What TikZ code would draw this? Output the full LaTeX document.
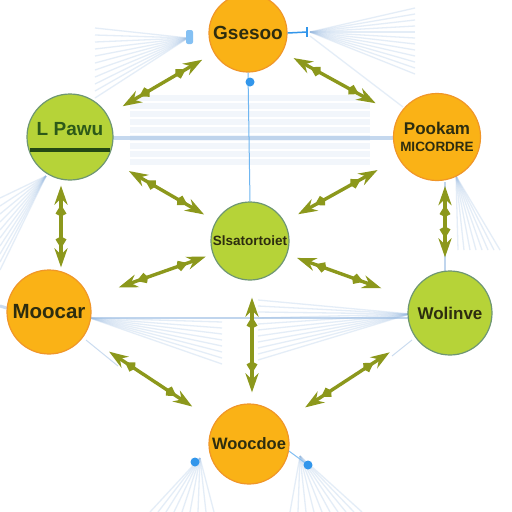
\documentclass[tikz,border=0pt]{standalone}
\usepackage{fontspec}
\setmainfont{Liberation Sans}
\usetikzlibrary{arrows.meta,calc,decorations.markings}
\definecolor{orfill}{RGB}{250,178,22}
\definecolor{ordraw}{RGB}{240,150,40}
\definecolor{grfill}{RGB}{182,211,56}
\definecolor{grdraw}{RGB}{110,150,115}
\definecolor{olivearr}{RGB}{140,152,28}
\definecolor{pale}{RGB}{150,185,225}
\definecolor{bluedot}{RGB}{50,150,235}
\definecolor{txtdark}{RGB}{45,45,15}
\definecolor{txtgreen}{RGB}{45,90,25}
\tikzset{
  onode/.style={circle, fill=orfill, draw=ordraw, line width=1.2pt, inner sep=0pt, text=txtdark, align=center},
  gnode/.style={circle, fill=grfill, draw=grdraw, line width=1.2pt, inner sep=0pt, text=txtdark, align=center},
  fs/.style={font=\bfseries\fontsize{#1}{#1}\selectfont},
  fan/.style={pale, opacity=0.25, line width=1.3pt},
  band/.style={pale, opacity=0.12, line width=6pt},
  arr/.style={olivearr, line width=3.4pt,
    {Stealth[length=19pt,width=13pt]}-{Stealth[length=19pt,width=13pt]},
    postaction={decorate},
    decoration={markings,
      mark=at position 19pt with {\arrowreversed{Kite[length=12pt,width=11pt]}},
      mark=at position -19pt with {\arrow{Kite[length=12pt,width=11pt]}}}},
}
\begin{document}
\begin{tikzpicture}[x=1pt,y=-1pt]
\useasboundingbox (0,0) rectangle (512,512);
\fill[white] (0,0) rectangle (512,512);

% pale fans and bands (background)
\foreach \y in {28,35,...,98} \draw[fan] (188,38) -- (95,\y);
\foreach \y in {8,14,...,74} \draw[fan] (310,32) -- (415,\y);
\draw[fan] (310,36) -- (403,107);
\foreach \y in {198,206,...,272} \draw[fan] (46,176) -- (0,\y);
\foreach \x in {458,464,...,504} \draw[fan] (456,176) -- (\x,250);
\foreach \y in {322,328,...,368} \draw[fan] (90,318) -- (222,\y);
\foreach \y in {300,306,...,362} \draw[fan] (410,314) -- (258,\y);
\foreach \x in {150,158,...,214} \draw[fan] (200,458) -- (\x,512);
\foreach \x in {290,298,...,362} \draw[fan] (300,456) -- (\x,512);
\foreach \y in {98,106,...,166} \draw[band] (130,\y) -- (370,\y);
\draw[pale, opacity=0.55, line width=3.5pt] (112,138) -- (394,138);
\draw[pale, opacity=0.6, line width=1.5pt] (90,318) -- (410,318);
\draw[pale, opacity=0.5, line width=3pt] (0,306) -- (10,309);
\draw[pale, opacity=0.5, line width=1pt] (86,340) -- (118,366);
\draw[pale, opacity=0.5, line width=1pt] (412,340) -- (392,356);
\draw[pale, opacity=0.6, line width=2pt] (445,182) -- (445,272);

% nodes
\node[onode, minimum size=78pt, fs=19] (top) at (248,33) {Gsesoo};
\node[gnode, minimum size=86pt, font=\bfseries\fontsize{19}{21}\selectfont, text=txtgreen] (left) at (70,137)
  {L Pawu\\[-4pt]{\color{txtgreen!80!black}\rule{80pt}{4pt}}};
\node[onode, minimum size=87pt, font=\bfseries\fontsize{14}{17}\selectfont] (right) at (437,137)
  {{\fontsize{17}{17}\selectfont Pookam}\\{\fontsize{13.5}{13.5}\selectfont MICORDRE}};
\node[gnode, minimum size=78pt, fs=13.5] (center) at (250,241) {Slsatortoiet};
\node[onode, minimum size=84pt, fs=20.5] (moocar) at (49,312) {Moocar};
\node[gnode, minimum size=84pt, fs=17] (wol) at (450,313) {Wolinve};
\node[onode, minimum size=80pt, fs=16.5] (bottom) at (249,444) {Woocdoe};

% thin blue link with dot
\draw[bluedot!70!white, line width=1pt] (top.south) -- (center.north);
\fill[bluedot] (250,82) circle (4.5pt);
\fill[bluedot!60!white, rounded corners=2pt] (186,30) rectangle (193,44);
\draw[bluedot, line width=1.5pt] (top.east) -- (307,32);
\draw[bluedot, line width=2pt] (307,27) -- (307,37);
\draw[bluedot!60!white, line width=1pt] (bottom.-10) -- (308,465);
\fill[bluedot] (195,462) circle (4.5pt);
\fill[bluedot] (308,465) circle (4.5pt);

% olive double arrows
\draw[arr] ($(top)!53pt!(left)$) -- ($(left)!61pt!(top)$);
\draw[arr] ($(top)!52pt!(right)$) -- ($(right)!70pt!(top)$);
\draw[arr] ($(left.south)+(-9,5)$) -- ($(moocar.north)+(12,-2)$);
\draw[arr] ($(right.south)+(8,5)$) -- ($(wol.north)+(-5,-13)$);
\draw[arr] ($(left)!68pt!(center)$) -- ($(center)!53pt!(left)$);
\draw[arr] ($(center)!55pt!(right)$) -- ($(right)!68pt!(center)$);
\draw[arr] ($(center)!47pt!(moocar)$) -- ($(moocar)!74pt!(center)$);
\draw[arr] ($(center)!50pt!(wol)$) -- ($(wol)!73pt!(center)$);
\draw[arr] ($(center.south)+(2,17)$) -- ($(bottom.north)+(3,-11)$);
\draw[arr] ($(moocar)!72pt!(bottom)$) -- ($(bottom)!68pt!(moocar)$);
\draw[arr] ($(bottom)!67pt!(wol)$) -- ($(wol)!72pt!(bottom)$);
\end{tikzpicture}
\end{document}
